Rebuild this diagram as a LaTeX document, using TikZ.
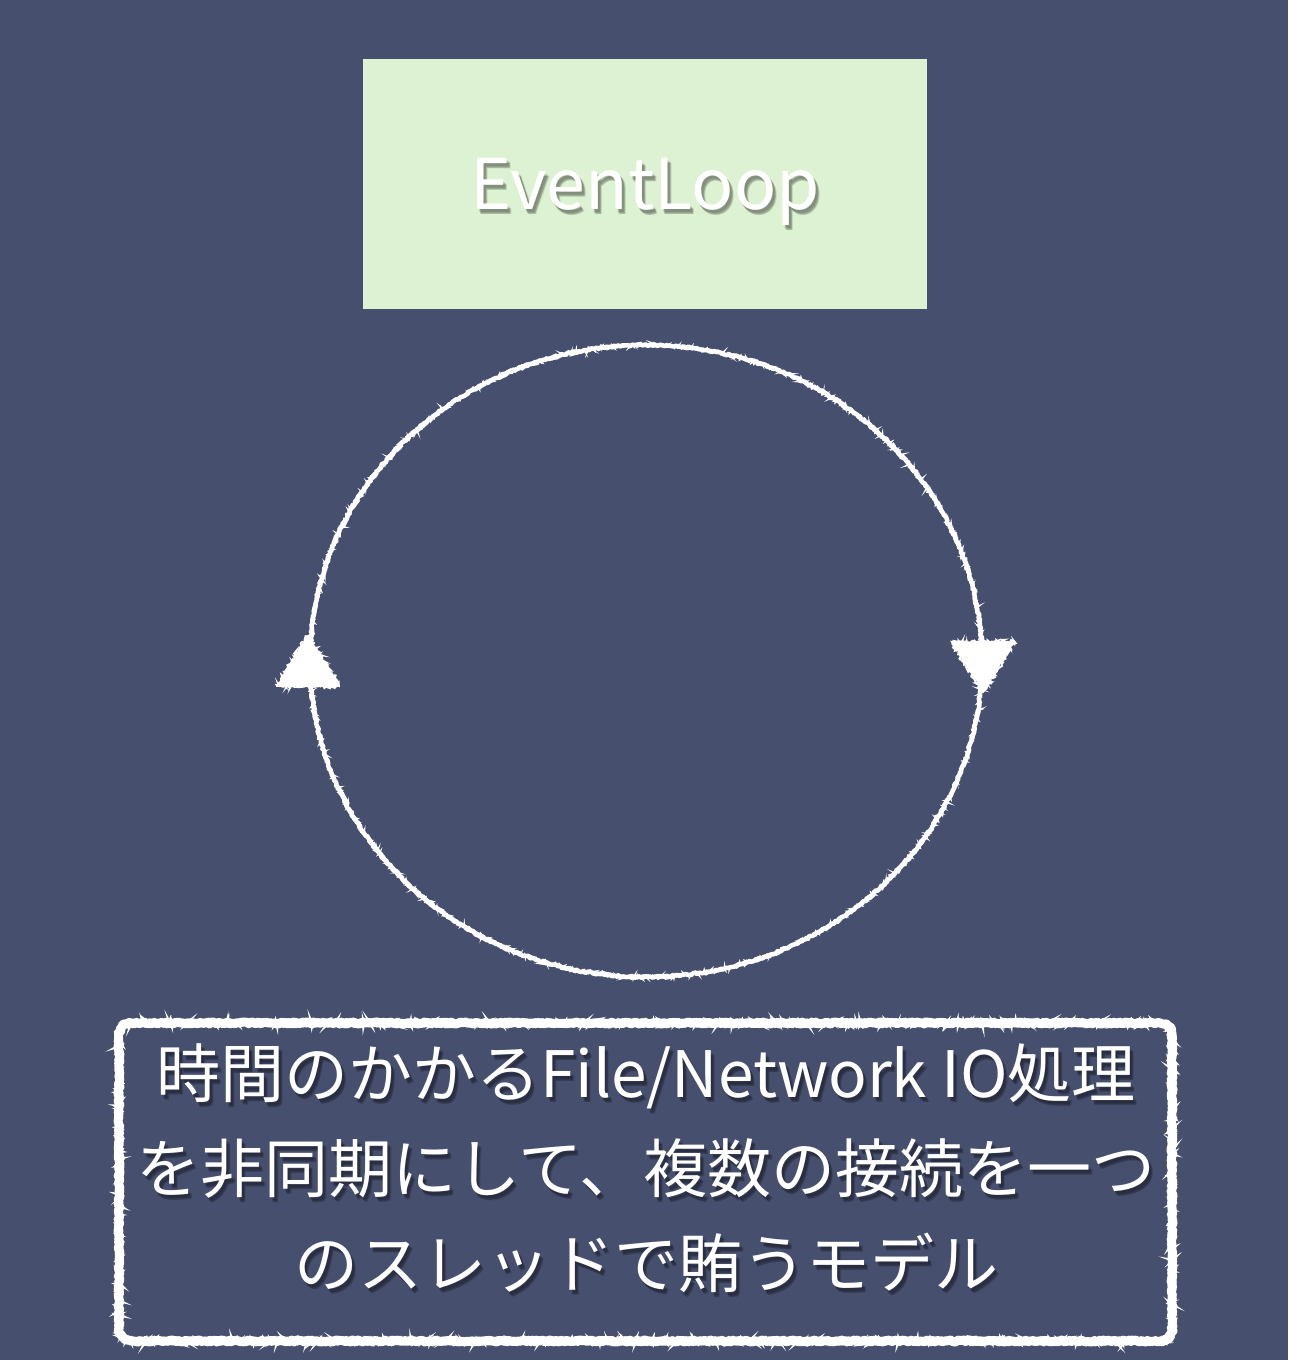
\documentclass[tikz,border=0pt]{standalone}
\usepackage{fontspec}
\setmainfont{Noto Sans CJK JP}
\usetikzlibrary{decorations.pathmorphing}
\definecolor{bg}{HTML}{474F6E}
\definecolor{boxg}{HTML}{DDF2D2}
\tikzset{
  chalk/.style={draw=white, line width=4.5pt, line join=round, decorate,
    decoration={random steps, segment length=1.5pt, amplitude=0.9pt}},
  fuzz/.style={draw=white, line width=1.6pt, decorate,
    decoration={random steps, segment length=1.2pt, amplitude=2.6pt}},
  chalkfill/.style={fill=white, draw=white, line width=1.5pt, line join=round, decorate,
    decoration={random steps, segment length=2pt, amplitude=1.2pt}},
  bigtxt/.style={text=white, font=\fontsize{70}{84}\selectfont, inner sep=0pt},
  captxt/.style={text=white, align=center, font=\fontsize{64}{95}\selectfont, inner sep=0pt},
  shadowtxt/.style={text=black, text opacity=0.12},
}
\begin{document}
\begin{tikzpicture}[x=1pt,y=-1pt]
\useasboundingbox (0,0) rectangle (1288,1360);
\fill[bg] (0,0) rectangle (1288,1360);
% EventLoop box
\node[fill=boxg, minimum width=564pt, minimum height=250pt, inner sep=0pt, anchor=north west] (ev) at (363,59) {};
\foreach \dx/\dy in {2/3,3/4,4/5,3/5}{
  \node[bigtxt, shadowtxt] at ([xshift=\dx pt,yshift=-\dy pt-8pt]ev.center) {EventLoop};}
\node[bigtxt] (evt) at ([yshift=-8pt]ev.center) {EventLoop};
% loop
\draw[chalk] (646,661) ellipse [x radius=336pt, y radius=316pt];
\draw[fuzz] (646,661) ellipse [x radius=336pt, y radius=316pt];
\coordinate (lt) at (308,636);
\coordinate (rt) at (983,692);
\path[chalkfill] (lt) -- ++(-31,50) -- ++(62,0) -- cycle;
\path[chalkfill] (rt) -- ++(-31,-50) -- ++(62,0) -- cycle;
\path[fuzz] (lt) -- ++(-31,50) -- ++(62,0) -- cycle;
\path[fuzz] (rt) -- ++(-31,-50) -- ++(62,0) -- cycle;
% caption box
\path[draw=white, line width=9pt, line join=round, decoration={random steps, segment length=1.5pt, amplitude=1pt}]
  decorate {[rounded corners=12pt] (119,1023) rectangle (1172,1341)};
\path[draw=white, line width=2.5pt, decoration={random steps, segment length=1.2pt, amplitude=3.5pt}]
  decorate {[rounded corners=12pt] (119,1023) rectangle (1172,1341)};
\foreach \dx/\dy in {2/3,3/4,4/5,3/5}{
  \node[captxt, shadowtxt] at (646+\dx,1168+\dy) {時間のかかるFile/Network IO処理\\を非同期にして、複数の接続を一つ\\のスレッドで賄うモデル};}
\node[captxt] (cap) at (646,1168) {時間のかかるFile/Network IO処理\\を非同期にして、複数の接続を一つ\\のスレッドで賄うモデル};
\end{tikzpicture}
\end{document}
